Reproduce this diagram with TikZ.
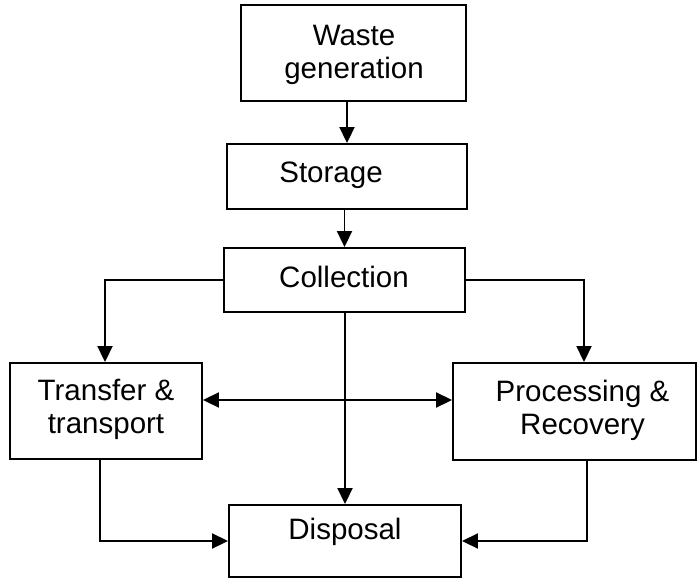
\documentclass[tikz,border=0pt]{standalone}
\usepackage{fontspec}
\setmainfont{Liberation Sans}
\usetikzlibrary{arrows.meta}
\begin{document}
\begin{tikzpicture}[x=1bp,y=-1bp,
  box/.style={draw,line width=1.9bp,minimum width=#1,inner sep=0pt},
  lbl/.style={font=\fontsize{29.5bp}{33bp}\selectfont,align=center,inner sep=0pt},
  arr/.style={line width=1.9bp,-{Triangle[length=16bp,width=15bp]}},
  darr/.style={line width=1.9bp,{Triangle[length=16bp,width=15bp]}-{Triangle[length=16bp,width=15bp]}}]
\useasboundingbox (0,0) rectangle (699,580);
% boxes
\node[box=225bp,minimum height=96bp] (waste) at (353.5,53) {};
\node[box=240bp,minimum height=65bp] (storage) at (347,176.5) {};
\node[box=241bp,minimum height=64bp] (collection) at (344.5,280) {};
\node[box=192bp,minimum height=96bp] (transfer) at (106,411) {};
\node[box=243bp,minimum height=97bp] (processing) at (574.5,411.5) {};
\node[box=232bp,minimum height=72bp] (disposal) at (345,541) {};
% labels
\node[lbl] (twaste) at (354,55) {Waste\\generation};
\node[lbl] (tstorage) at (331,175) {Storage};
\node[lbl] (tcollection) at (344,277) {Collection};
\node[lbl] (ttransfer) at (106,409) {Transfer \&\\transport};
\node[lbl] (tprocessing) at (582.5,410) {Processing \&\\Recovery};
\node[lbl] (tdisposal) at (345,532) {Disposal};
% helper coordinates
\coordinate (hy) at (0,400);
\coordinate (lx) at (100,0);
\coordinate (rx) at (587,0);
\coordinate (px) at (584,0);
\coordinate (cx) at (105,0);
% connectors
\draw[arr] (storage.north |- waste.south) -- (storage.north);
\draw[arr] (collection.north |- storage.south) -- (collection.north);
\draw[arr] (collection.west) -| (cx |- transfer.north);
\draw[arr] (collection.east) -| (px |- processing.north);
\draw[arr] (disposal.north |- collection.south) -- (disposal.north);
\draw[darr] (transfer.east |- hy) -- (processing.west |- hy);
\draw[arr] (lx |- transfer.south) |- (disposal.west);
\draw[arr] (rx |- processing.south) |- (disposal.east);
\end{tikzpicture}
\end{document}
